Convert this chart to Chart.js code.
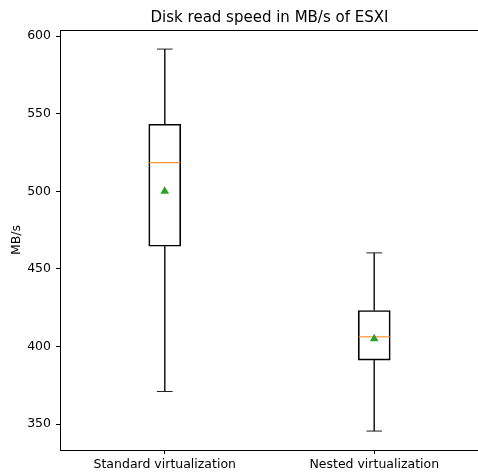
<!DOCTYPE html>
<html>
<head>
<meta charset="utf-8">
<script src="https://cdn.jsdelivr.net/npm/chart.js@4/dist/chart.umd.min.js"></script>
<style>
  html, body { margin: 0; padding: 0; background: #fff; overflow: hidden; }
  #wrap { width: 484px; height: 474px; }
</style>
</head>
<body>
<div id="wrap"><canvas id="boxChart" width="484" height="474"></canvas></div>
<script>
// data
const categories = ['Standard virtualization', 'Nested virtualization'];
const positions = [1, 2];
const whiskerLow = [371, 345.5];
const q1 = [464.6, 391.2];
const medians = [518.4, 406.2];
const q3 = [543.2, 423.2];
const whiskerHigh = [591.6, 460.3];
const means = [500, 405];
const yTicks = [350, 400, 450, 500, 550, 600];
const titleText = 'Disk read speed in MB/s of ESXI';

const FONT = 'DejaVu Sans, sans-serif';
const capHalf = 0.0375;
const boxHalf = 0.075;

// spines + title centred over the axes, like matplotlib
const frame = {
  id: 'frame',
  afterDatasetsDraw(chart) {
    const { ctx, chartArea: a } = chart;
    ctx.save();
    ctx.strokeStyle = '#000';
    ctx.lineWidth = 1;
    ctx.strokeRect(Math.round(a.left) + 0.5, Math.round(a.top) + 0.5, Math.round(a.right - a.left), Math.round(a.bottom - a.top));
    ctx.fillStyle = '#000';
    ctx.font = '15px ' + FONT;
    ctx.textAlign = 'center';
    ctx.textBaseline = 'alphabetic';
    ctx.fillText(titleText, (a.left + a.right) / 2, a.top - 8);
    ctx.restore();
  }
};

// one small line dataset per segment
function seg(x1, y1, x2, y2, color, width, order) {
  return {
    type: 'line',
    data: [{ x: x1, y: y1 }, { x: x2, y: y2 }],
    borderColor: color,
    borderWidth: width,
    pointRadius: 0,
    fill: false,
    order: order
  };
}

const datasets = [{
  type: 'bar',
  data: positions.map((p, i) => ({ x: p, y: [q1[i], q3[i]] })),
  backgroundColor: 'rgba(0,0,0,0)',
  borderColor: '#000',
  borderWidth: 1,
  borderSkipped: false,
  barThickness: 32,
  grouped: false,
  order: 4
}];
positions.forEach((p, i) => {
  // whiskers listed top to bottom so both draw the same way
  datasets.push(seg(p, q1[i], p, whiskerLow[i], '#222', 1, 3));
  datasets.push(seg(p, whiskerHigh[i], p, q3[i], '#222', 1, 3));
  datasets.push(seg(p - capHalf, whiskerLow[i], p + capHalf, whiskerLow[i], '#222', 1, 3));
  datasets.push(seg(p - capHalf, whiskerHigh[i], p + capHalf, whiskerHigh[i], '#222', 1, 3));
  datasets.push(seg(p - boxHalf, medians[i], p + boxHalf, medians[i], '#ff7f0e', 1, 2));
});
datasets.push({
  type: 'scatter',
  data: positions.map((p, i) => ({ x: p, y: means[i] })),
  pointStyle: 'triangle',
  pointRadius: 5,
  backgroundColor: '#2ca02c',
  borderColor: '#2ca02c',
  borderWidth: 0,
  order: 1
});

new Chart(document.getElementById('boxChart').getContext('2d'), {
  data: { datasets },
  options: {
    responsive: false,
    animation: false,
    layout: { padding: { left: 0, right: 1, top: 30, bottom: 0 } },
    plugins: {
      legend: { display: false },
      tooltip: { enabled: false },
      title: { display: false }
    },
    scales: {
      x: {
        type: 'linear',
        min: 0.5,
        max: 2.5,
        offset: false,
        afterBuildTicks: s => { s.ticks = positions.map(v => ({ value: v })); },
        afterFit: s => { s.height = 24; },
        ticks: {
          color: '#000',
          font: { family: FONT, size: 12.5 },
          padding: 3,
          maxRotation: 0,
          autoSkip: false,
          callback: (v) => categories[positions.indexOf(v)]
        },
        grid: { drawOnChartArea: false, offset: false, tickLength: 4, color: '#000' },
        border: { display: false }
      },
      y: {
        min: 333.3,
        max: 603.9,
        afterBuildTicks: s => { s.ticks = yTicks.map(v => ({ value: v })); },
        afterFit: s => { s.width = 60; },
        ticks: { color: '#000', font: { family: FONT, size: 12.5 }, padding: 5 },
        grid: { drawOnChartArea: false, tickLength: 4, color: '#000' },
        border: { display: false },
        title: {
          display: true,
          text: 'MB/s',
          color: '#000',
          font: { family: FONT, size: 12.5 },
          padding: { top: 9, bottom: 0 }
        }
      }
    }
  },
  plugins: [frame]
});
</script>
</body>
</html>
